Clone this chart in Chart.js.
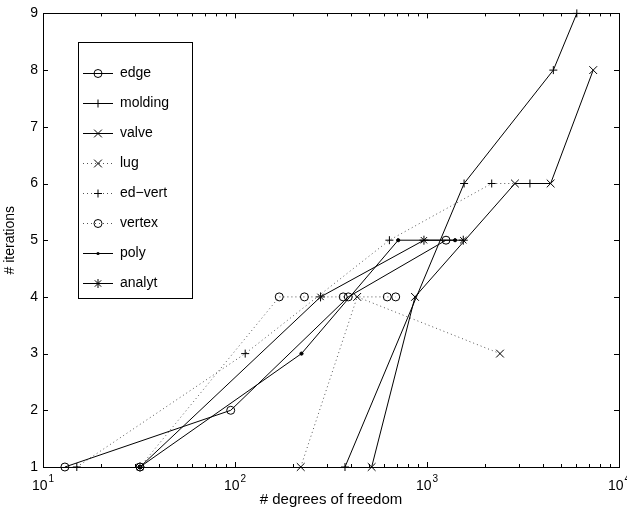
<!DOCTYPE html>
<html>
<head>
<meta charset="utf-8">
<script src="https://cdn.jsdelivr.net/npm/chart.js@4.4.0/dist/chart.umd.min.js"></script>
<style>
  html, body { margin: 0; padding: 0; background: #fff; overflow: hidden; }
  #wrap { width: 627px; height: 513px; }
</style>
</head>
<body>
<div id="wrap"><canvas id="iterChart" width="627" height="513"></canvas></div>
<script>
// x ticks (decades) and y ticks
const decadeTicks = [10, 100, 1000, 10000];
const decadeExp = ["1", "2", "3", "4"];
const iterTicks = [1, 2, 3, 4, 5, 6, 7, 8, 9];

// series: degrees of freedom / iterations
const edgeDof = [13, 95, 389, 1256];
const edgeIter = [1, 2, 4, 5];
const moldingDof = [374, 1560, 4550, 6030];
const moldingIter = [1, 6, 8, 9];
const valveDof = [515, 866, 2870, 4405, 7340];
const valveIter = [1, 4, 6, 6, 8];
const lugDof = [220, 433, 2400];
const lugIter = [1, 4, 3];
const edVertDof = [15, 113, 637, 2173, 3436];
const edVertIter = [1, 3, 5, 6, 6];
const vertexDof = [32, 170, 230, 366, 621, 687];
const vertexIter = [1, 4, 4, 4, 4, 4];
const polyDof = [32, 222, 708, 1400];
const polyIter = [1, 3, 5, 5];
const analytDof = [32, 279, 964, 1545];
const analytIter = [1, 4, 5, 5];

const FONT = "'Liberation Sans', Arial, Helvetica, sans-serif";
const DOTTED = [1, 3];

function series(label, dof, iter, marker, dotted) {
    const size = { circle: 4, cross: 4, crossRot: 5.5, star: 4.5, dot: 1.6 }[marker];
    return {
        label: label,
        data: dof.map((d, i) => ({ x: d, y: iter[i] })),
        borderColor: dotted ? "#555" : "#000",
        borderWidth: 1,
        borderDash: dotted ? DOTTED : [],
        pointStyle: marker === "dot" ? "circle" : marker,
        pointRadius: size,
        pointHoverRadius: size,
        pointBorderColor: "#000",
        pointBorderWidth: 1,
        pointBackgroundColor: marker === "dot" ? "#000" : "rgba(0,0,0,0)",
        marker: marker,
        tension: 0,
        fill: false,
        clip: false
    };
}

// draws one marker for the legend sample
function drawMarker(ctx, marker, r, x, y) {
    ctx.beginPath();
    if (marker === "circle") {
        ctx.arc(x, y, r, 0, Math.PI * 2);
        ctx.stroke();
        return;
    }
    if (marker === "dot") {
        ctx.arc(x, y, r, 0, Math.PI * 2);
        ctx.fill();
        return;
    }
    if (marker === "cross" || marker === "star") {
        ctx.moveTo(x - r, y); ctx.lineTo(x + r, y);
        ctx.moveTo(x, y - r); ctx.lineTo(x, y + r);
    }
    if (marker === "crossRot" || marker === "star") {
        const d = r * Math.SQRT1_2;
        ctx.moveTo(x - d, y - d); ctx.lineTo(x + d, y + d);
        ctx.moveTo(x - d, y + d); ctx.lineTo(x + d, y - d);
    }
    ctx.stroke();
}

// box around the plot, inward ticks and 10^n labels
const axesBox = {
    id: "axesBox",
    afterDatasetsDraw(chart) {
        const { ctx, chartArea: a } = chart;
        const xs = chart.scales.x, ys = chart.scales.y;
        ctx.save();
        ctx.strokeStyle = "#000";
        ctx.lineWidth = 1;
        ctx.strokeRect(Math.round(a.left) + 0.5, Math.round(a.top) + 0.5,
            Math.round(a.right - a.left), Math.round(a.bottom - a.top));
        ctx.beginPath();
        iterTicks.forEach(v => {
            const y = Math.round(ys.getPixelForValue(v)) + 0.5;
            ctx.moveTo(a.left, y); ctx.lineTo(a.left + 5, y);
            ctx.moveTo(a.right, y); ctx.lineTo(a.right - 5, y);
        });
        decadeTicks.forEach((d, k) => {
            const x = Math.round(xs.getPixelForValue(d)) + 0.5;
            ctx.moveTo(x, a.bottom); ctx.lineTo(x, a.bottom - 5);
            ctx.moveTo(x, a.top); ctx.lineTo(x, a.top + 5);
            if (k < decadeTicks.length - 1) {
                for (let m = 2; m <= 9; m++) {
                    const xm = Math.round(xs.getPixelForValue(d * m)) + 0.5;
                    ctx.moveTo(xm, a.bottom); ctx.lineTo(xm, a.bottom - 3);
                    ctx.moveTo(xm, a.top); ctx.lineTo(xm, a.top + 3);
                }
            }
        });
        ctx.stroke();

        ctx.fillStyle = "#000";
        ctx.textBaseline = "alphabetic";
        decadeTicks.forEach((d, k) => {
            const x = xs.getPixelForValue(d);
            ctx.font = "14px " + FONT;
            const wBase = ctx.measureText("10").width;
            ctx.font = "10px " + FONT;
            const wExp = ctx.measureText(decadeExp[k]).width;
            const x0 = x - (wBase + 1 + wExp) / 2;
            ctx.font = "14px " + FONT;
            ctx.textAlign = "left";
            ctx.fillText("10", x0, a.bottom + 23);
            ctx.font = "10px " + FONT;
            ctx.fillText(decadeExp[k], x0 + wBase + 1, a.bottom + 15);
        });
        ctx.restore();
    }
};

// MATLAB style legend box with line sample + marker
const boxLegend = {
    id: "boxLegend",
    afterDraw(chart) {
        const ctx = chart.ctx;
        const left = 78, top = 42, right = 192, bottom = 298;
        ctx.save();
        ctx.fillStyle = "#fff";
        ctx.fillRect(left, top, right - left, bottom - top);
        ctx.strokeStyle = "#000";
        ctx.lineWidth = 1;
        ctx.strokeRect(left + 0.5, top + 0.5, right - left, bottom - top);
        ctx.font = "14px " + FONT;
        ctx.textBaseline = "middle";
        ctx.textAlign = "left";
        chart.data.datasets.forEach((ds, i) => {
            const y = 73.5 + i * 30;
            ctx.strokeStyle = ds.borderColor;
            ctx.fillStyle = "#000";
            ctx.setLineDash(ds.borderDash);
            ctx.beginPath();
            ctx.moveTo(83, y); ctx.lineTo(113, y);
            ctx.stroke();
            ctx.setLineDash([]);
            ctx.strokeStyle = "#000";
            drawMarker(ctx, ds.marker, ds.pointRadius, 98, y);
            ctx.fillText(ds.label, 120, y);
        });
        ctx.restore();
    }
};

const ctx = document.getElementById("iterChart").getContext("2d");
const iterChart = new Chart(ctx, {
    type: "line",
    data: {
        datasets: [
            series("edge", edgeDof, edgeIter, "circle", false),
            series("molding", moldingDof, moldingIter, "cross", false),
            series("valve", valveDof, valveIter, "crossRot", false),
            series("lug", lugDof, lugIter, "crossRot", true),
            series("ed\u2212vert", edVertDof, edVertIter, "cross", true),
            series("vertex", vertexDof, vertexIter, "circle", true),
            series("poly", polyDof, polyIter, "dot", false),
            series("analyt", analytDof, analytIter, "star", false)
        ]
    },
    options: {
        responsive: false,
        animation: false,
        layout: { padding: { left: 0, right: 8, top: 13, bottom: 0 } },
        plugins: {
            legend: { display: false },
            tooltip: { enabled: false }
        },
        scales: {
            x: {
                type: "logarithmic",
                min: 10,
                max: 10000,
                ticks: { display: false },
                grid: { display: false, drawTicks: false },
                border: { display: false },
                title: {
                    display: true,
                    text: "# degrees of freedom",
                    color: "#000",
                    font: { family: FONT, size: 15 },
                    padding: { top: 0, bottom: 4 }
                },
                afterFit: s => { s.height = 46; }
            },
            y: {
                min: 1,
                max: 9,
                ticks: {
                    stepSize: 1,
                    color: "#000",
                    padding: 5,
                    font: { family: FONT, size: 14 }
                },
                grid: { display: false, drawTicks: false },
                border: { display: false },
                title: {
                    display: true,
                    text: "# iterations",
                    color: "#000",
                    font: { family: FONT, size: 14 },
                    padding: { top: 2, bottom: 0 }
                },
                afterFit: s => { s.width = 43; }
            }
        }
    },
    plugins: [axesBox, boxLegend]
});
</script>
</body>
</html>
